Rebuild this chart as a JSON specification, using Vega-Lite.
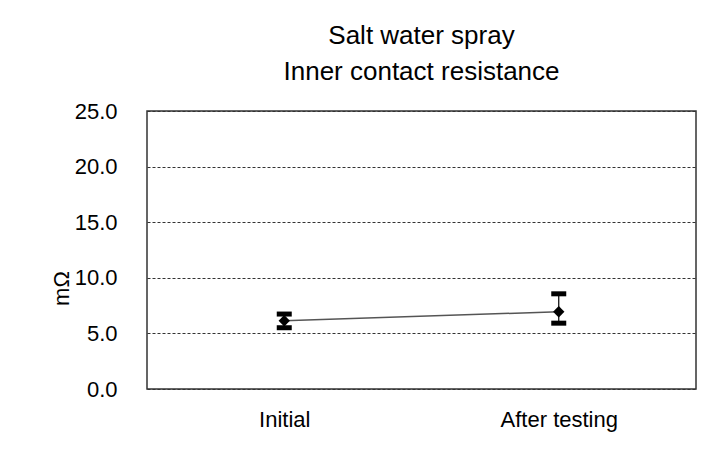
{
  "$schema": "https://vega.github.io/schema/vega-lite/v6.json",
  "width": 549,
  "height": 278,
  "autosize": {"type": "none"},
  "padding": {"left": 147, "top": 111, "right": 22, "bottom": 74},
  "background": "white",
  "title": {
    "text": ["Salt water spray", "Inner contact resistance"],
    "fontSize": 26,
    "font": "Liberation Sans",
    "fontWeight": "normal",
    "lineHeight": 36,
    "offset": 15,
    "anchor": "middle",
    "color": "black"
  },
  "data": {
    "values": [
      {"stage": "Initial", "mean": 6.14, "low": 5.51, "high": 6.74},
      {"stage": "After testing", "mean": 6.95, "low": 5.92, "high": 8.56}
    ]
  },
  "encoding": {
    "x": {
      "field": "stage",
      "type": "nominal",
      "sort": ["Initial", "After testing"],
      "scale": {"type": "point", "padding": 0.5},
      "title": null
    }
  },
  "layer": [
    {
      "mark": {"type": "line", "color": "#555", "strokeWidth": 1.5},
      "encoding": {
        "y": {"field": "mean", "type": "quantitative", "scale": {"domain": [0, 25], "nice": false, "padding": 0, "zero": true}, "title": "mΩ"}
      }
    },
    {
      "mark": {"type": "rule", "color": "black", "strokeWidth": 1.2},
      "encoding": {
        "y": {"field": "low", "type": "quantitative", "title": "mΩ"},
        "y2": {"field": "high"}
      }
    },
    {
      "mark": {"type": "tick", "color": "black", "size": 15, "thickness": 5, "opacity": 1},
      "encoding": {
        "y": {"field": "low", "type": "quantitative", "title": "mΩ"}
      }
    },
    {
      "mark": {"type": "tick", "color": "black", "size": 15, "thickness": 5, "opacity": 1},
      "encoding": {
        "y": {"field": "high", "type": "quantitative", "title": "mΩ"}
      }
    },
    {
      "mark": {"type": "point", "shape": "diamond", "filled": true, "color": "black", "size": 130, "opacity": 1},
      "encoding": {
        "y": {"field": "mean", "type": "quantitative", "title": "mΩ"}
      }
    }
  ],
  "config": {
    "font": "Liberation Sans",
    "scale": {"continuousPadding": 0},
    "view": {"stroke": "#333", "strokeWidth": 1.5},
    "axis": {
      "labelFont": "Liberation Sans",
      "labelFontSize": 22,
      "labelColor": "black",
      "ticks": false,
      "domain": false,
      "titleFont": "Liberation Sans",
      "titleFontWeight": "normal",
      "titleColor": "black"
    },
    "axisY": {
      "values": [0, 5, 10, 15, 20, 25],
      "format": ".1f",
      "labelPadding": 30,
      "gridDash": [3, 2],
      "gridColor": "#333",
      "gridWidth": 1,
      "titleFontSize": 22,
      "titleX": -74,
      "titleY": 177
    },
    "axisX": {"grid": false, "labelPadding": 20, "labelAngle": 0}
  }
}
